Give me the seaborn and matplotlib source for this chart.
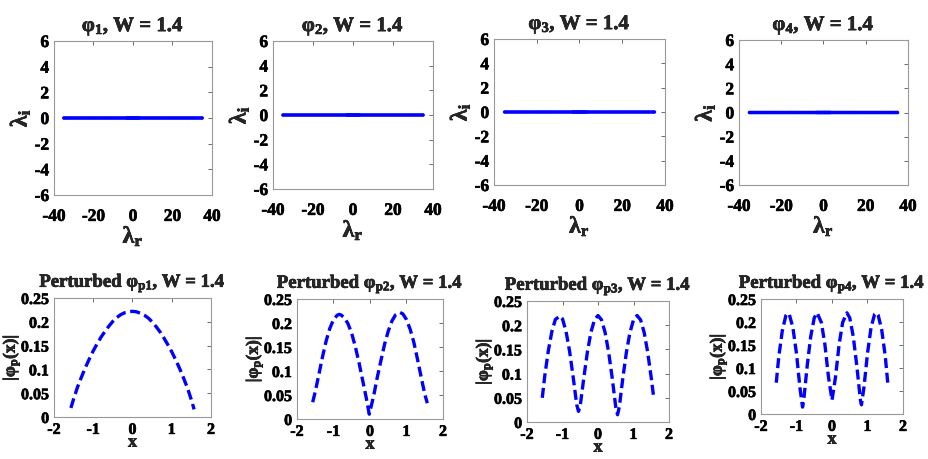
import matplotlib
matplotlib.use("Agg")
import matplotlib.pyplot as plt
import matplotlib.patheffects as pe
import matplotlib.text as mtext
import matplotlib.transforms as mtrans
import seaborn as sns
import pandas as pd

sns.set_style("white")
plt.rcParams["font.family"] = ["Liberation Serif", "DejaVu Serif"]
plt.rcParams["font.weight"] = "bold"
plt.rcParams["axes.unicode_minus"] = False
plt.rcParams["mathtext.fontset"] = "custom"
plt.rcParams["mathtext.rm"] = "Liberation Serif:bold"
plt.rcParams["mathtext.it"] = "Liberation Serif:bold"
plt.rcParams["mathtext.bf"] = "Liberation Serif:bold"

# ---------------- data ----------------
# eigenvalue spectrum (real parts), imaginary parts all ~0
lam_r = [-35.0, -34.2, -33.3, -32.4, -31.5, -30.6, -29.7, -28.8, -27.9, -27.0,
         -26.1, -25.2, -24.3, -23.4, -22.5, -21.6, -20.7, -19.8, -18.9, -18.0,
         -17.1, -16.2, -15.3, -14.4, -13.5, -12.6, -11.7, -10.8, -9.9, -9.0,
         -8.1, -7.2, -6.3, -5.4, -4.5, -3.6, -3.0, -2.5, -2.0, -1.5, -1.0, -0.5,
         0.0, 0.5, 1.0, 1.5, 2.0, 2.5, 3.0, 3.6, 4.5, 5.4, 6.3, 7.2, 8.1, 9.0,
         9.9, 10.8, 11.7, 12.6, 13.5, 14.4, 15.3, 16.2, 17.1, 18.0, 18.9, 19.8,
         20.7, 21.6, 22.5, 23.4, 24.3, 25.2, 26.1, 27.0, 27.9, 28.8, 29.7, 30.6,
         31.5, 32.4, 33.3, 34.2, 35.0]
lam_i = [0.0] * len(lam_r)

top_xticks = [-40, -20, 0, 20, 40]
top_xlabels = ["-40", "-20", "0", "20", "40"]
top_yticks = [-6, -4, -2, 0, 2, 4, 6]
top_ylabels = ["-6", "-4", "-2", "0", "2", "4", "6"]
bot_xticks = [-2, -1, 0, 1, 2]
bot_xlabels = ["-2", "-1", "0", "1", "2"]
bot_yticks = [0, 0.05, 0.1, 0.15, 0.2, 0.25]
bot_ylabels = ["0", "0.05", "0.1", "0.15", "0.2", "0.25"]

top_titles = [r"$\mathrm{φ_1}$, W = 1.4", r"$\mathrm{φ_2}$, W = 1.4",
              r"$\mathrm{φ_3}$, W = 1.4", r"$\mathrm{φ_4}$, W = 1.4"]
bottom_titles = [r"Perturbed $\mathrm{φ_{p1}}$, W = 1.4", r"Perturbed $\mathrm{φ_{p2}}$, W = 1.4",
                 r"Perturbed $\mathrm{φ_{p3}}$, W = 1.4", r"Perturbed $\mathrm{φ_{p4}}$, W = 1.4"]

x1 = [-1.57, -1.5, -1.4, -1.3, -1.2, -1.1, -1.0, -0.9, -0.8, -0.7, -0.6, -0.5, -0.4, -0.3, -0.2, -0.1,
      0.0, 0.1, 0.2, 0.3, 0.4, 0.5, 0.6, 0.7, 0.8, 0.9, 1.0, 1.1, 1.2, 1.3, 1.4, 1.5, 1.57]
y1 = [0.019, 0.038, 0.063, 0.084, 0.104, 0.122, 0.139, 0.154, 0.168, 0.180, 0.191, 0.201, 0.209,
      0.215, 0.219, 0.221, 0.222, 0.221, 0.218, 0.214, 0.208, 0.200, 0.190, 0.179, 0.166, 0.152,
      0.137, 0.120, 0.102, 0.082, 0.061, 0.036, 0.016]

x2 = [-1.57, -1.5, -1.4, -1.3, -1.2, -1.1, -1.0, -0.9, -0.85, -0.8, -0.7, -0.6, -0.5, -0.4, -0.3, -0.2, -0.1,
      -0.02, 0.1, 0.2, 0.3, 0.4, 0.5, 0.6, 0.7, 0.82, 0.9, 1.0, 1.1, 1.2, 1.3, 1.4, 1.5, 1.57]
y2 = [0.035, 0.057, 0.093, 0.130, 0.163, 0.189, 0.207, 0.216, 0.218, 0.217, 0.211, 0.198, 0.178,
      0.150, 0.117, 0.080, 0.043, 0.010, 0.048, 0.087, 0.122, 0.156, 0.183, 0.204, 0.217, 0.222,
      0.219, 0.207, 0.187, 0.160, 0.125, 0.088, 0.052, 0.033]

x3 = [-1.57, -1.5, -1.4, -1.3, -1.2, -1.07, -1.0, -0.9, -0.8, -0.7, -0.6, -0.55, -0.5, -0.4, -0.3,
      -0.2, -0.1, 0.0, 0.1, 0.2, 0.3, 0.4, 0.5, 0.55, 0.6, 0.7, 0.8, 0.9, 1.0, 1.1, 1.2, 1.3, 1.4,
      1.5, 1.57]
y3 = [0.050, 0.095, 0.147, 0.187, 0.212, 0.219, 0.213, 0.187, 0.146, 0.093, 0.036, 0.022, 0.034,
      0.091, 0.144, 0.185, 0.211, 0.220, 0.211, 0.185, 0.144, 0.091, 0.031, 0.015, 0.031, 0.091,
      0.144, 0.185, 0.211, 0.220, 0.211, 0.185, 0.144, 0.091, 0.050]

x4 = [-1.57, -1.5, -1.4, -1.3, -1.25, -1.2, -1.1, -1.0, -0.9, -0.83, -0.8, -0.7, -0.6, -0.5, -0.42,
      -0.3, -0.2, -0.1, 0.0, 0.1, 0.2, 0.3, 0.42, 0.5, 0.6, 0.7, 0.8, 0.83, 0.9, 1.0, 1.1, 1.2,
      1.25, 1.3, 1.4, 1.5, 1.57]
y4 = [0.068, 0.124, 0.181, 0.214, 0.219, 0.216, 0.187, 0.131, 0.055, 0.015, 0.027, 0.104, 0.168,
      0.209, 0.220, 0.199, 0.151, 0.081, 0.030, 0.081, 0.151, 0.199, 0.220, 0.209, 0.168, 0.104,
      0.030, 0.020, 0.058, 0.132, 0.188, 0.217, 0.220, 0.215, 0.183, 0.126, 0.068]

curves = [(x1, y1), (x2, y2), (x3, y3), (x4, y4)]

# ---------------- layout ----------------
W, H = 929, 459
fig = plt.figure(figsize=(W / 100, H / 100), dpi=100)

top_boxes = [(54, 212, 41, 195), (273, 433, 41, 189), (494, 665, 39, 185), (739, 908, 40, 185)]
bot_boxes = [(54, 211, 298, 417), (297, 443, 299, 419), (527, 669, 301, 422), (761, 903, 299, 414)]


def mkax(b):
    l, r, t, bt = b
    return fig.add_axes([l / W, 1 - bt / H, (r - l) / W, (bt - t) / H])


def style(ax):
    ax.tick_params(direction="in", length=3, width=0.6, top=True, right=True,
                   colors="#555555", labelcolor="black")
    for s in ax.spines.values():
        s.set_color("#999999")
        s.set_linewidth(0.8)


def shift_xticklabels(ax, dy_px):
    off = mtrans.ScaledTranslation(0, -dy_px / 100.0, fig.dpi_scale_trans)
    for lab in ax.get_xticklabels():
        lab.set_transform(lab.get_transform() + off)


for i in range(4):
    ax = mkax(top_boxes[i])
    style(ax)
    df = pd.DataFrame({"lr": lam_r, "li": lam_i})
    sns.scatterplot(data=df, x="lr", y="li", ax=ax, color="blue", s=7,
                    edgecolor="none", marker="o", legend=False)
    ax.set_xlim(-40, 40)
    ax.set_ylim(-6, 6)
    ax.set_xticks(top_xticks, top_xlabels, fontsize=12.5, fontweight="bold")
    ax.set_yticks(top_yticks, top_ylabels, fontsize=12.5, fontweight="bold")
    shift_xticklabels(ax, 9)
    ax.set_xlabel(r"$\mathrm{λ_r}$", fontsize=17, labelpad=0)
    ax.set_ylabel(r"$\mathrm{λ_i}$", fontsize=17, labelpad=2)
    ax.set_title(top_titles[i], fontsize=15, fontweight="bold", pad=7)

for i in range(4):
    ax = mkax(bot_boxes[i])
    style(ax)
    xs, ys = curves[i]
    df = pd.DataFrame({"x": xs, "y": ys})
    sns.lineplot(data=df, x="x", y="y", ax=ax, color="blue", lw=2.4,
                 linestyle=(0, (3.0, 1.4)))
    ax.set_xlim(-2, 2)
    ax.set_ylim(0, 0.25)
    ax.set_xticks(bot_xticks, bot_xlabels, fontsize=11.5, fontweight="bold")
    ax.set_yticks(bot_yticks, bot_ylabels, fontsize=11.5, fontweight="bold")
    ax.set_xlabel("x", fontsize=13, fontweight="bold", labelpad=-3)
    ax.set_ylabel(r"|$\mathrm{φ_p}$(x)|", fontsize=12.5, fontweight="bold", labelpad=-1)
    ax.set_title(bottom_titles[i], fontsize=13.5, fontweight="bold", pad=8)

for t in fig.findobj(mtext.Text):
    t.set_path_effects([pe.withStroke(linewidth=0.45, foreground="black")])

fig.savefig("out.png", dpi=100)
